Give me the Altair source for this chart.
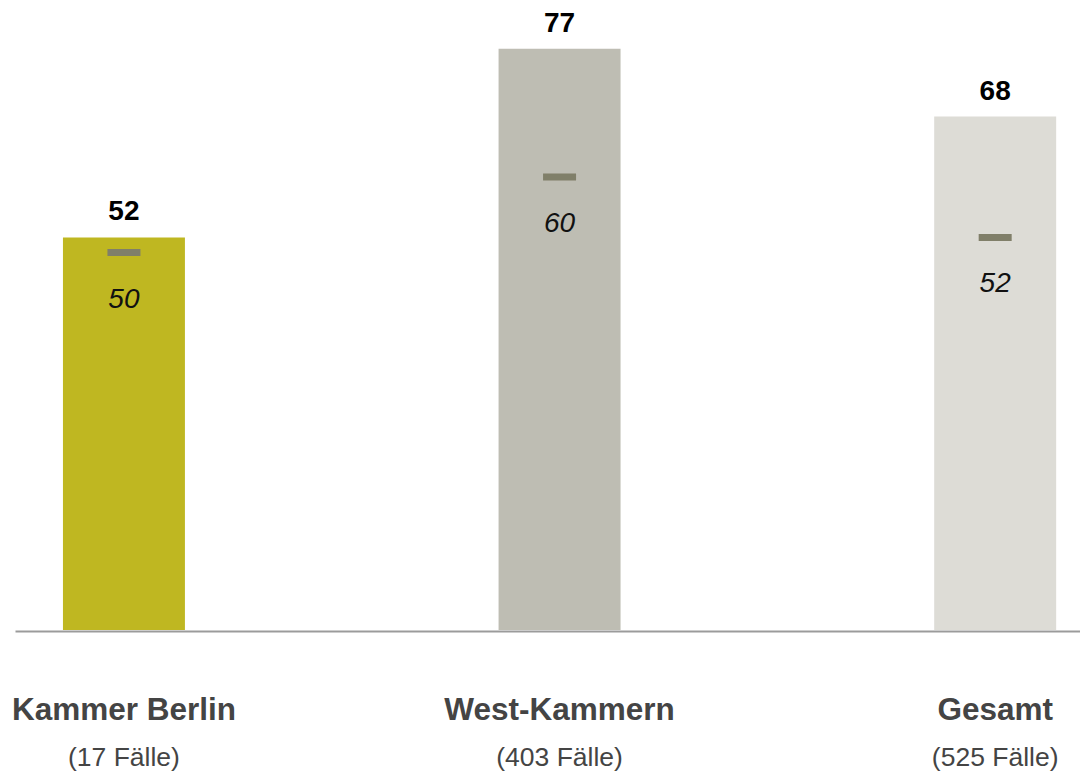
import altair as alt
import pandas as pd

categories = ["Kammer Berlin", "West-Kammern", "Gesamt"]
cases = ["(17 Fälle)", "(403 Fälle)", "(525 Fälle)"]
means = [52, 77, 68]
medians = [50, 60, 52]
bar_colors = ["#bfb721", "#bebdb3", "#dddcd6"]

df = pd.DataFrame({"category": categories, "cases": cases, "mean": means, "median": medians})

FONT = "Liberation Sans"
H = 604

x_enc = alt.X(
    "category:N",
    sort=categories,
    scale=alt.Scale(paddingInner=0.72, paddingOuter=0.0824, align=0.668),
    axis=alt.Axis(title=None, labels=False, ticks=False, grid=False,
                  domainColor="#9b9b9b", domainWidth=2, offset=1),
)
y_scale = alt.Scale(domain=[0, 80], nice=False, zero=True)

base = alt.Chart(df).encode(x=x_enc)

bars = base.mark_bar(opacity=1).encode(
    y=alt.Y("mean:Q", scale=y_scale, axis=None),
    color=alt.Color("category:N", scale=alt.Scale(domain=categories, range=bar_colors), legend=None),
)

ticks = base.mark_tick(size=33, thickness=7, color="#807f69", opacity=1).encode(
    y=alt.Y("median:Q", scale=y_scale, axis=None)
)

mean_text = base.mark_text(dy=-17, baseline="alphabetic", align="center", fontSize=28,
                           fontWeight="bold", font=FONT, color="#000000").encode(
    y=alt.Y("mean:Q", scale=y_scale, axis=None), text="mean:Q"
)

median_text = base.mark_text(dy=55, baseline="alphabetic", align="center", fontSize=28,
                             fontStyle="italic", font=FONT, color="#111111").encode(
    y=alt.Y("median:Q", scale=y_scale, axis=None), text="median:Q"
)

cat_text = base.mark_text(baseline="alphabetic", align="center", fontSize=31.5,
                          fontWeight="bold", font=FONT, color="#444444").encode(
    y=alt.value(H + 89.5), text="category:N"
)

case_text = base.mark_text(baseline="alphabetic", align="center", fontSize=26.5,
                           font=FONT, color="#444444").encode(
    y=alt.value(H + 136), text="cases:N"
)

chart = alt.layer(bars, ticks, mean_text, median_text, cat_text, case_text).properties(
    width=1065,
    height=H,
    padding={"left": 7, "top": 18, "right": 0, "bottom": 150},
    autosize=alt.AutoSizeParams(type="none"),
).configure(background="#ffffff").configure_view(stroke=None)

chart.save("out.html", embed_options={"renderer": "svg", "actions": False})
